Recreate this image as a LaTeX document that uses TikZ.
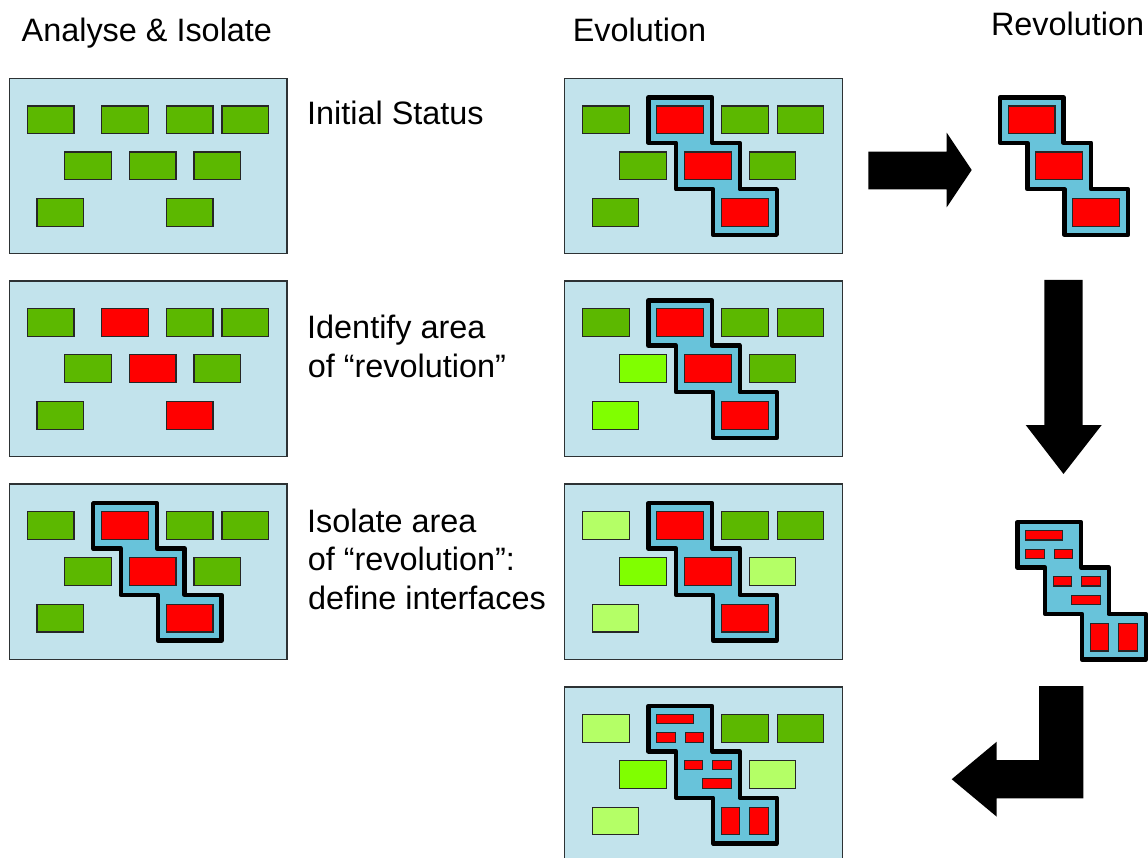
\documentclass[tikz,border=0pt]{standalone}
\usepackage{fontspec}
\setmainfont{Liberation Sans}

\definecolor{panelfill}{RGB}{194,227,236}
\definecolor{panelline}{RGB}{45,50,52}
\definecolor{compgreen}{RGB}{92,184,0}
\definecolor{compbright}{RGB}{128,255,0}
\definecolor{comppale}{RGB}{180,255,102}
\definecolor{compred}{RGB}{255,0,0}
\definecolor{zonefill}{RGB}{104,195,218}

\tikzset{
  panelframe/.style={fill=panelfill, draw=panelline, line width=1.4pt},
  tile/.style={draw=black!85, line width=1.1pt},
  old/.style={tile, fill=compgreen},
  fresh/.style={tile, fill=compbright},
  done/.style={tile, fill=comppale},
  hot/.style={tile, fill=compred},
  zone/.style={fill=zonefill, draw=black, line width=4.4pt, line join=round},
  bigarrow/.style={fill=black, draw=none},
  label/.style={anchor=base west, inner sep=0pt, outer sep=0pt,
    font=\fontsize{32.4}{38.8}\selectfont},
}

% one component box at (x,y) inside a panel
\newcommand\tile[3]{\draw[#1] (#2,#3) rectangle ++(46.7,27.7);}
% panel background
\newcommand\frameblk{\draw[panelframe] (0,0) rectangle (277.7,175.3);}
% the isolated zone around the three red components
\newcommand\zoneline{\draw[zone] (83.9,19.2) -- (147.6,19.2) -- (147.6,64.5)
  -- (175.2,64.5) -- (175.2,110.9) -- (212.2,110.9) -- (212.2,156.5)
  -- (148.5,156.5) -- (148.5,110.9) -- (111.5,110.9) -- (111.5,64.5)
  -- (83.9,64.5) -- cycle;}
% the three red components
\newcommand\redtrio{\tile{hot}{92.4}{27.7}\tile{hot}{120}{73.7}\tile{hot}{157}{120.3}}
% the red components after being rebuilt as smaller parts
\newcommand\smallpart[5]{\draw[#1] (#2,#3) rectangle ++(#4,#5);}
\newcommand\rebuilt{%
  \smallpart{hot}{92.4}{27.7}{36.7}{9.3}
  \smallpart{hot}{92.4}{46.1}{18.3}{9.3}
  \smallpart{hot}{120.8}{46.1}{18.3}{9.3}
  \smallpart{hot}{120}{73.7}{18.3}{9.3}
  \smallpart{hot}{148.4}{73.7}{18.3}{9.3}
  \smallpart{hot}{138.4}{92.1}{28.3}{9.3}
  \smallpart{hot}{157}{120.4}{18.3}{27.6}
  \smallpart{hot}{185.4}{120.4}{18.3}{27.6}}

\begin{document}
\begin{tikzpicture}[x=1pt,y=-1pt]
\useasboundingbox (0,0) rectangle (1148,858);
\clip (0,0) rectangle (1148,858);

% column titles
\node[label] (tanalyse) at (21.7,41.7) {Analyse \& Isolate};
\node[label] (tevolution) at (572.8,41.7) {Evolution};
\node[label] (trevolution) at (991,36) {Revolution};

% step descriptions
\node[label] (dinit) at (307.2,125) {Initial Status};
\node[label] (did1) at (307.2,338.5) {Identify area};
\node[label] (did2) at (307.8,377.3) {of “revolution”};
\node[label] (diso1) at (307.2,532) {Isolate area};
\node[label] (diso2) at (307.8,570.8) {of “revolution”:};
\node[label] (diso3) at (308.2,609.5) {define interfaces};

% --- Analyse & Isolate column ---
\begin{scope}[shift={(9.3,78.3)}]
  \frameblk
  \tile{old}{18}{27.7}\tile{old}{92.4}{27.7}\tile{old}{157}{27.7}\tile{old}{212.7}{27.7}
  \tile{old}{55.4}{73.7}\tile{old}{120}{73.7}\tile{old}{184.7}{73.7}
  \tile{old}{27.7}{120.3}\tile{old}{157}{120.3}
\end{scope}

\begin{scope}[shift={(9.3,281.2)}]
  \frameblk
  \tile{old}{18}{27.7}\tile{old}{157}{27.7}\tile{old}{212.7}{27.7}
  \tile{old}{55.4}{73.7}\tile{old}{184.7}{73.7}
  \tile{old}{27.7}{120.3}
  \redtrio
\end{scope}

\begin{scope}[shift={(9.3,484)}]
  \frameblk
  \tile{old}{18}{27.7}\tile{old}{157}{27.7}\tile{old}{212.7}{27.7}
  \tile{old}{55.4}{73.7}\tile{old}{184.7}{73.7}
  \tile{old}{27.7}{120.3}
  \zoneline\redtrio
\end{scope}

% --- Evolution column ---
\begin{scope}[shift={(564.5,78.3)}]
  \frameblk
  \tile{old}{18}{27.7}\tile{old}{157}{27.7}\tile{old}{212.7}{27.7}
  \tile{old}{55.4}{73.7}\tile{old}{184.7}{73.7}
  \tile{old}{27.7}{120.3}
  \zoneline\redtrio
\end{scope}

\begin{scope}[shift={(564.5,281.2)}]
  \frameblk
  \tile{old}{18}{27.7}\tile{old}{157}{27.7}\tile{old}{212.7}{27.7}
  \tile{fresh}{55.4}{73.7}\tile{old}{184.7}{73.7}
  \tile{fresh}{27.7}{120.3}
  \zoneline\redtrio
\end{scope}

\begin{scope}[shift={(564.5,484)}]
  \frameblk
  \tile{done}{18}{27.7}\tile{old}{157}{27.7}\tile{old}{212.7}{27.7}
  \tile{fresh}{55.4}{73.7}\tile{done}{184.7}{73.7}
  \tile{done}{27.7}{120.3}
  \zoneline\redtrio
\end{scope}

\begin{scope}[shift={(564.5,686.8)}]
  \frameblk
  \tile{done}{18}{27.7}\tile{old}{157}{27.7}\tile{old}{212.7}{27.7}
  \tile{fresh}{55.4}{73.7}\tile{done}{184.7}{73.7}
  \tile{done}{27.7}{120.3}
  \zoneline\rebuilt
\end{scope}

% --- Revolution column ---
\begin{scope}[shift={(915.9,78.3)}]
  \zoneline\redtrio
\end{scope}

\begin{scope}[shift={(933.5,503)}]
  \zoneline\rebuilt
\end{scope}

% block arrows
\fill[bigarrow] (868.3,151.7) -- (946.7,151.7) -- (946.7,132.7) -- (971.7,170)
  -- (946.7,207.3) -- (946.7,189.3) -- (868.3,189.3) -- cycle;
\fill[bigarrow] (1044.3,280) -- (1082.7,280) -- (1082.7,425) -- (1101.7,425)
  -- (1063.5,474) -- (1025.7,425) -- (1044.3,425) -- cycle;
\fill[bigarrow] (1039,686) -- (1083.3,686) -- (1083.3,798.3) -- (996.7,798.3)
  -- (996.7,816.7) -- (951.7,779.2) -- (996.7,741.7) -- (996.7,760)
  -- (1039,760) -- cycle;
\end{tikzpicture}
\end{document}
